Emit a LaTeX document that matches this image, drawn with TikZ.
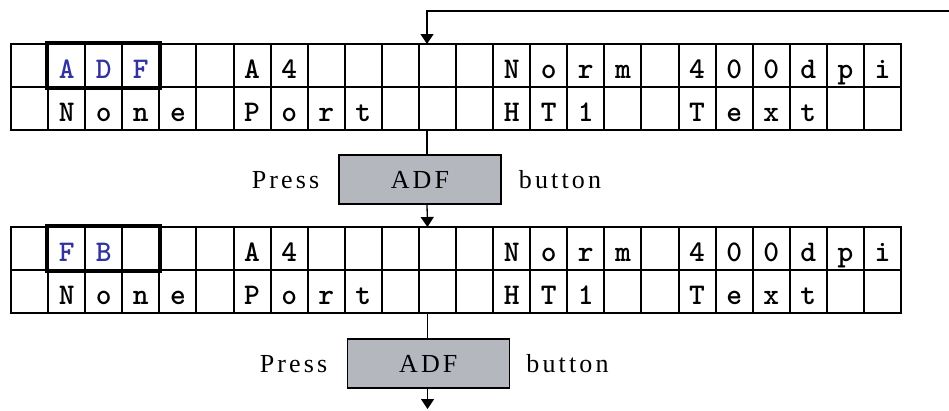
\documentclass[tikz,border=0pt]{standalone}
\usepackage{fontspec}
\setmainfont{Liberation Serif}
\newfontfamily\spaced[LetterSpace=12]{Liberation Serif}
\newfontfamily\lcdfont{lmmonolt10-bold.otf}
\usetikzlibrary{arrows.meta}
\definecolor{lcdblue}{RGB}{51,51,160}
\definecolor{btngray}{RGB}{180,184,190}
\newcommand\bl[1]{\textcolor{lcdblue}{#1}}
\tikzset{
  cell/.style={draw, line width=2pt, minimum width=37.083pt, minimum height=43pt,
    inner sep=0pt, text height=26.4pt, text depth=0pt,
    font=\fontsize{30}{30}\selectfont\lcdfont},
  selbox/.style={draw, line width=4pt},
  btn/.style={draw, fill=btngray, line width=1.6pt, minimum width=162pt,
    minimum height=49pt, inner sep=0pt, font=\fontsize{26}{26}\selectfont\spaced},
  lbl/.style={anchor=base, inner sep=0pt, font=\fontsize{26}{26}\selectfont\spaced},
  wire/.style={line width=1.3pt},
  arr/.style={wire, -{Triangle[length=10pt,width=13pt]}},
}
\newcommand\lcdgrid[4]{%
  \foreach \t [count=\c from 0] in {#3}
    \node[cell] (#1-1-\c) at ({11+37.083*(\c+0.5)},{#2+21.5}) {\t};
  \foreach \t [count=\c from 0] in {#4}
    \node[cell] (#1-2-\c) at ({11+37.083*(\c+0.5)},{#2+64.5}) {\t};
  \draw[selbox] (#1-1-1.north west) rectangle (#1-1-3.south east);
}
\begin{document}
\begin{tikzpicture}[x=1pt,y=-1pt]
\useasboundingbox (0,0) rectangle (949,410);

\lcdgrid{ga}{44}{{},\bl{A},\bl{D},\bl{F},{},{},A,4,{},{},{},{},{},N,o,r,m,{},4,0,0,d,p,i}
  {{},N,o,n,e,{},P,o,r,t,{},{},{},H,T,1,{},{},T,e,x,t,{},{}}
\lcdgrid{gb}{227}{{},\bl{F},\bl{B},{},{},{},A,4,{},{},{},{},{},N,o,r,m,{},4,0,0,d,p,i}
  {{},N,o,n,e,{},P,o,r,t,{},{},{},H,T,1,{},{},T,e,x,t,{},{}}

\node[btn] (b1) at (420,179.5) {ADF};
\node[lbl] (p1) at (285.5,188) {Press};
\node[lbl] (t1) at (560,188) {button};

\node[btn] (b2) at (428.3,363.5) {ADF};
\node[lbl] (p2) at (293.5,372) {Press};
\node[lbl] (t2) at (567.5,372) {button};

\coordinate (feed) at (949,11);
\coordinate (in1) at (427,44);
\coordinate (out1) at (427,130);
\coordinate (in2) at (427.5,227);
\coordinate (out2) at (427.5,314);
\coordinate (exit) at (427.5,409);

\draw[arr] (feed) -| (in1);
\draw[wire] (out1) -- (out1 |- b1.north);
\draw[arr] (out1 |- b1.south) -- (in2);
\draw[wire] (out2) -- (out2 |- b2.north);
\draw[arr] (out2 |- b2.south) -- (exit);
\end{tikzpicture}
\end{document}
